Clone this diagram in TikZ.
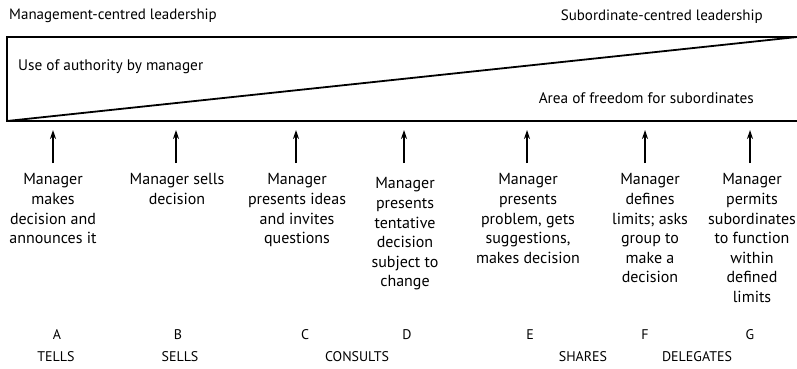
\documentclass[tikz,border=0pt]{standalone}
\usepackage{fontspec}
\setmainfont{PT Sans}
\usetikzlibrary{arrows.meta}
\begin{document}
\begin{tikzpicture}[x=1pt,y=-1pt,
  heading/.style={font=\fontsize{15}{17}\selectfont, inner sep=0pt},
  area/.style={font=\fontsize{15.3}{17}\selectfont, inner sep=0pt},
  behaviour/.style={font=\fontsize{16}{19.6}\selectfont, align=center, anchor=north, inner sep=0pt},
  letter/.style={font=\fontsize{14}{16}\selectfont, inner sep=0pt},
  frame/.style={line width=1.8pt},
  pointer/.style={line width=1.4pt, -{Stealth[length=9pt,width=6pt]}}]
\useasboundingbox (0,0) rectangle (797,368);
\fill[white] (0,0) rectangle (797,368);

% headings over the continuum
\node[heading, anchor=west] (mgr) at (9,16) {Management-centred leadership};
\node[heading, anchor=east] (sub) at (763,17) {Subordinate-centred leadership};

% the continuum band split by the diagonal
\coordinate (tl) at (7,37);
\coordinate (bl) at (7,121);
\coordinate (tr) at (805,37);
\coordinate (br) at (805,121);
\coordinate (apex) at (797,37);
\draw[frame] (tr) -- (tl) -- (bl) -- (br);
\draw[frame] (bl) -- (apex);
\node[area, anchor=west] (auth) at (18,67) {Use of authority by manager};
\node[area, anchor=east] (free) at (754,98) {Area of freedom for subordinates};

% behaviours along the continuum
\node[behaviour] (ta) at (53,173.5) {Manager\\makes\\decision and\\announces it};
\node[behaviour] (tb) at (177,173.5) {Manager sells\\decision};
\node[behaviour] (tc) at (297,173.5) {Manager\\presents ideas\\and invites\\questions};
\node[behaviour] (td) at (405,177.5) {Manager\\presents\\tentative\\decision\\subject to\\change};
\node[behaviour] (te) at (528,173.5) {Manager\\presents\\problem, gets\\suggestions,\\makes decision};
\node[behaviour] (tf) at (650,173.5) {Manager\\defines\\limits; asks\\group to\\make a\\decision};
\node[behaviour] (tg) at (752,173.5) {Manager\\permits\\subordinates\\to function\\within\\defined\\limits};

% arrows pointing up to the band
\foreach \n/\x in {a/53, b/176, c/296, d/404, e/527, f/645, g/750} {
  \coordinate (s\n) at (\x,163);
  \coordinate (e\n) at (\x,130);
  \draw[pointer] (s\n) -- (e\n);
}

% letters and style names
\node[letter] (la) at (57,335) {A};
\node[letter] (lb) at (178,335) {B};
\node[letter] (lc) at (305,335) {C};
\node[letter] (ld) at (407,335) {D};
\node[letter] (le) at (530,335) {E};
\node[letter] (lf) at (645,335) {F};
\node[letter] (lg) at (750,335) {G};
\node[letter] (wa) at (56,357) {TELLS};
\node[letter] (wb) at (180,357) {SELLS};
\node[letter] (wc) at (357,357) {CONSULTS};
\node[letter] (we) at (583,357) {SHARES};
\node[letter] (wf) at (697,357) {DELEGATES};
\end{tikzpicture}
\end{document}
